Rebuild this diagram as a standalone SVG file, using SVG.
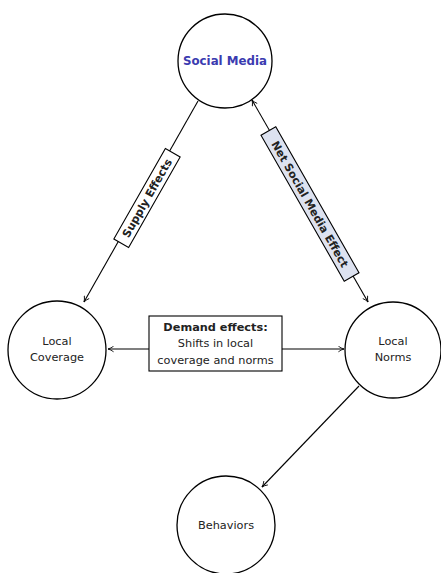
<svg xmlns="http://www.w3.org/2000/svg" width="441" height="573" viewBox="0 0 441 573">
<defs>
<marker id="ah" viewBox="0 0 10 10" refX="9" refY="5" markerWidth="7" markerHeight="7" orient="auto-start-reverse" markerUnits="userSpaceOnUse">
<path d="M1,1 Q5,4 9,5 Q5,6 1,9" fill="none" stroke="#000" stroke-width="1.2"/>
</marker>
<style>
.node{fill:#fff;stroke:#000;stroke-width:1.3}
.t{font-family:"DejaVu Sans","Liberation Sans",sans-serif;font-size:11.3px;text-anchor:middle;fill:#222}
.b{font-weight:bold}
.edge{stroke:#000;stroke-width:1.1;fill:none}
.lbl{stroke:#000;stroke-width:1.1}
</style>
</defs>
<rect width="441" height="573" fill="#fff"/>
<g id="connectors">
<line class="edge" x1="198" y1="101" x2="84" y2="302" marker-end="url(#ah)"/>
<line class="edge" x1="252" y1="100" x2="368" y2="302" marker-start="url(#ah)" marker-end="url(#ah)"/>
<line class="edge" x1="149" y1="349" x2="108" y2="349" marker-end="url(#ah)"/>
<line class="edge" x1="282" y1="349" x2="344" y2="349" marker-end="url(#ah)"/>
<line class="edge" x1="359" y1="386" x2="262" y2="487" marker-end="url(#ah)"/>
<g id="supply-label" transform="translate(147,198) rotate(-60.3)">
<rect class="lbl" x="-52" y="-8.5" width="104" height="17" fill="#fff"/>
<text class="t b" x="0" y="4" style="font-size:11px">Supply Effects</text>
</g>
<g id="net-label" transform="translate(310,204) rotate(60.3)">
<rect class="lbl" x="-84" y="-8.5" width="168" height="17" fill="#dde2f0"/>
<text class="t b" x="0" y="4" style="font-size:11px">Net Social Media Effect</text>
</g>
</g>
<g id="social-media">
<circle class="node" cx="225" cy="61" r="47"/>
<text class="t b" x="225" y="65" style="fill:#3b3bb0;font-size:11.8px">Social Media</text>
</g>
<g id="local-coverage">
<circle class="node" cx="57" cy="350" r="49"/>
<text class="t" x="57" y="345">Local</text>
<text class="t" x="57" y="361">Coverage</text>
</g>
<g id="local-norms">
<circle class="node" cx="393" cy="350" r="48"/>
<text class="t" x="393" y="345">Local</text>
<text class="t" x="393" y="361">Norms</text>
</g>
<g id="behaviors">
<circle class="node" cx="226" cy="525" r="49"/>
<text class="t" x="226" y="529">Behaviors</text>
</g>
<g id="demand">
<rect x="149" y="316" width="133" height="55" fill="#fff" stroke="#000" stroke-width="1.1"/>
<text class="t b" x="215.5" y="331">Demand effects:</text>
<text class="t" x="215.5" y="347">Shifts in local</text>
<text class="t" x="215.5" y="364">coverage and norms</text>
</g>
</svg>
